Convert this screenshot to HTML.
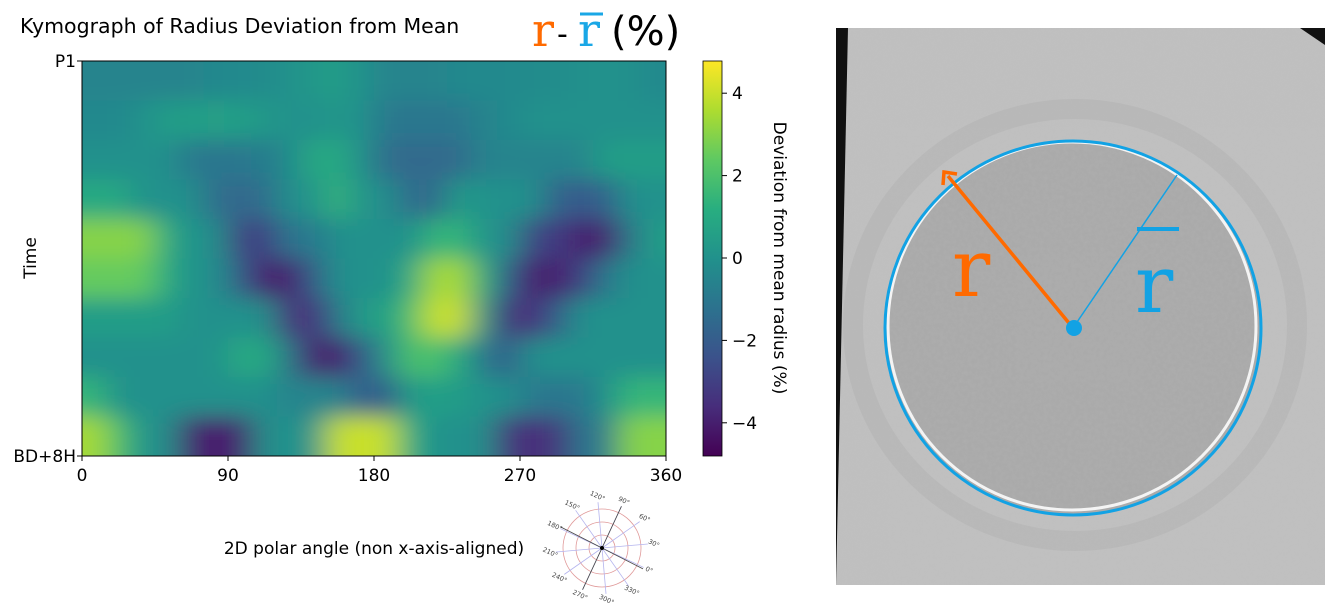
<!DOCTYPE html>
<html><head><meta charset="utf-8"><style>
body{margin:0;background:#fff;width:1325px;height:609px;overflow:hidden;font-family:"Liberation Sans","DejaVu Sans",sans-serif}
</style></head><body>
<svg id="fig" width="1325" height="609" xmlns="http://www.w3.org/2000/svg" font-family="'DejaVu Sans','Liberation Sans',sans-serif">
<defs>
<clipPath id="plotclip"><rect x="82" y="61" width="584" height="395"/></clipPath>
<filter id="blur" x="-10%" y="-10%" width="120%" height="120%"><feGaussianBlur stdDeviation="16 11"/></filter>
<linearGradient id="cbar" x1="0" y1="1" x2="0" y2="0">
<stop offset="0" stop-color="#440154"/><stop offset="0.125" stop-color="#472d7b"/><stop offset="0.25" stop-color="#3b528b"/><stop offset="0.375" stop-color="#2c728e"/><stop offset="0.5" stop-color="#21918c"/><stop offset="0.625" stop-color="#28ae80"/><stop offset="0.75" stop-color="#5ec962"/><stop offset="0.875" stop-color="#addc30"/><stop offset="1" stop-color="#fde725"/>
</linearGradient>
<filter id="noise" x="0" y="0" width="100%" height="100%"><feTurbulence type="fractalNoise" baseFrequency="0.25" numOctaves="2" seed="3"/><feColorMatrix type="matrix" values="0 0 0 0 0.5 0 0 0 0 0.5 0 0 0 0 0.5 0 0 0 0.35 0"/></filter>
<clipPath id="cellclip"><ellipse cx="1073" cy="328" rx="187" ry="186"/></clipPath>
<clipPath id="photoclip"><polygon points="848,28 1300,28 1325,45 1325,585 836,585"/></clipPath>
</defs>
<text x="20" y="33" font-size="20.5">Kymograph of Radius Deviation from Mean</text>
<g>
<text x="532" y="46" font-size="46" font-family="'DejaVu Serif','Liberation Serif',serif" fill="#ff6a00">r</text>
<text x="557" y="44" font-size="30" fill="#000">-</text>
<text x="578" y="46" font-size="46" font-family="'DejaVu Serif','Liberation Serif',serif" fill="#1aa7e6">r</text>
<line x1="580" y1="14" x2="603" y2="14" stroke="#1aa7e6" stroke-width="3"/>
<text x="611" y="45" font-size="40" fill="#000">(%)</text>
</g>
<g clip-path="url(#plotclip)"><g id="heat" filter="url(#blur)"></g></g>
<rect x="82" y="61" width="584" height="395" fill="none" stroke="#000" stroke-width="1"/>
<g id="xticks" font-size="17" text-anchor="middle"></g>
<text x="76" y="67" font-size="17" text-anchor="end">P1</text>
<text x="76" y="462" font-size="17" text-anchor="end">BD+8H</text>
<line x1="77" y1="61" x2="82" y2="61" stroke="#000"/><line x1="77" y1="456" x2="82" y2="456" stroke="#000"/>
<text transform="translate(36,258) rotate(-90)" font-size="17" text-anchor="middle">Time</text>
<text x="374" y="554" font-size="17" text-anchor="middle">2D polar angle (non x-axis-aligned)</text>
<rect x="703" y="61" width="19" height="395" fill="url(#cbar)" stroke="#000" stroke-width="0.8"/>
<g id="cticks" font-size="17"></g>
<text transform="translate(774,258) rotate(90)" font-size="17" text-anchor="middle">Deviation from mean radius (%)</text>
<g id="polar"></g>
<g>
<polygon points="836,28 1325,28 1325,585 836,585" fill="#111"/>
<g clip-path="url(#photoclip)">
<rect x="836" y="28" width="489" height="557" fill="#c0c0c0"/>
<rect x="836" y="28" width="489" height="557" filter="url(#noise)" opacity="0.4"/>
<ellipse cx="1075" cy="325" rx="222" ry="216" fill="none" stroke="#b0b0b0" stroke-width="20" opacity="0.4"/>
</g>
<ellipse cx="1073" cy="328" rx="187" ry="186" fill="#a9a9a9"/>
<g clip-path="url(#cellclip)"><rect x="880" y="140" width="390" height="380" filter="url(#noise)" opacity="0.8"/></g>
<ellipse cx="1072" cy="326" rx="184" ry="184" fill="none" stroke="#f4f4f4" stroke-width="3"/>
<ellipse cx="1073" cy="328" rx="188" ry="187" fill="none" stroke="#12a2e4" stroke-width="3"/>
<line x1="1073" y1="328" x2="948" y2="176" stroke="#ff6a00" stroke-width="3.5"/>
<polyline points="943,185 944,172 957,174" fill="none" stroke="#ff6a00" stroke-width="3.5"/>
<line x1="1073" y1="328" x2="1177" y2="175" stroke="#12a2e4" stroke-width="1.5"/>
<circle cx="1074" cy="328" r="8" fill="#12a2e4"/>
<text x="952" y="296" font-size="80" font-family="'DejaVu Serif','Liberation Serif',serif" fill="#ff6a00">r</text>
<text x="1135" y="312" font-size="80" font-family="'DejaVu Serif','Liberation Serif',serif" fill="#12a2e4">r</text>
<rect x="1137" y="227" width="42" height="4" fill="#12a2e4"/>
</g>
</svg>
<script>
const angles = ["0","90","180","270","360"];
const cbTicks = [4,2,0,-2,-4];
const nCols = 24;
const values = [
[-0.5,-0.5,-0.5,-0.5,-0.5,-0.3,-0.3,-0.2,0,0.3,0.5,0,-0.5,-0.5,-0.5,-0.3,-0.3,-0.3,-0.2,-0.2,0,0,0,-0.3],
[-0.3,-0.3,0,0.5,0.5,0.6,0.5,0.3,0,0,0.3,0,-1,-1,-1,-1,-0.5,-0.3,0,0,0,0,0,0],
[0,0,0,0,-1,-1,-1,-0.8,-0.3,1,1,0,-1.5,-1.5,-1.5,-1.5,-0.5,-0.5,-0.5,-0.5,-0.5,0.5,0.5,0.5],
[1,1,0,0,0,-1.5,-1.5,-1.5,0,0,1.5,0,0,-1.5,-1.5,0.5,0,0,0,-2,-2,-2,0,0],
[3,3,3,1,0,0,-3,-3,-1,-1,0,0,0,0,1.5,1.5,0,0,-3,-3,-4,-4,-1,0.5],
[2.5,2.5,2.5,1,0,0,-2,-4,-4,-2,0,0,0,1,3.5,3.5,1,-2,-4,-4,-3,-1,0,0],
[0.5,0.5,0.5,0.5,0,0,0,0,-3.5,-3.5,-1,0.5,0.5,2,4,4,0,-3.5,-3.5,-2,0,0,0,0],
[0,0,0,0,0,0,1,1,-1,-4,-4,-2,0,2,2,1,-1,-2,0,0,0,0,0,0],
[1.5,0,0,0,0,0,0,0,-0.5,-0.5,-0.5,-2,-2,0.5,0.5,0.5,0,0,-1,-1,-1,0,1.5,1.5],
[3.5,2,0,0,-4,-4,-4,0,0,0,4,4,4,1,0,0,0,-3.5,-3.5,-3.5,-1,-1,3,3]
];
const X0=82,X1=666,Y0=61,Y1=456,VMIN=-4.8,VMAX=4.8;
const xScale=a=>X0+(a/360)*(X1-X0);
const cScale=v=>258-v*41.2;
const stops=[[68,1,84],[71,45,123],[59,82,139],[44,114,142],[33,145,140],[40,174,128],[94,201,98],[173,220,48],[253,231,37]];
function viridis(v){let t=(v-VMIN)/(VMAX-VMIN);t=Math.max(0,Math.min(1,t))*(stops.length-1);const i=Math.min(stops.length-2,Math.floor(t)),f=t-i;const c=stops[i].map((s,k)=>Math.round(s+(stops[i+1][k]-s)*f));return `rgb(${c[0]},${c[1]},${c[2]})`;}
const NS="http://www.w3.org/2000/svg";
const heat=document.getElementById('heat');
const nRows=values.length,cw=(X1-X0)/nCols,rh=(Y1-Y0)/nRows;
values.forEach((row,r)=>row.forEach((v,c)=>{
 const el=document.createElementNS(NS,'rect');
 let x=X0+c*cw,y=Y0+r*rh,w=cw+0.5,h=rh+0.5;
 if(c===0){x-=40;w+=40;} if(c===nCols-1){w+=40;}
 if(r===0){y-=40;h+=40;} if(r===nRows-1){h+=40;}
 el.setAttribute('x',x);el.setAttribute('y',y);el.setAttribute('width',w);el.setAttribute('height',h);
 el.setAttribute('fill',viridis(v));
 
 
 heat.appendChild(el);
}));
const xt=document.getElementById('xticks');
angles.forEach(a=>{
 const x=xScale(+a);
 const l=document.createElementNS(NS,'line');
 l.setAttribute('x1',x);l.setAttribute('x2',x);l.setAttribute('y1',456);l.setAttribute('y2',461);l.setAttribute('stroke','#000');
 xt.appendChild(l);
 const t=document.createElementNS(NS,'text');
 t.setAttribute('x',x);t.setAttribute('y',481);t.textContent=a;
 
 
 xt.appendChild(t);
});
const ct=document.getElementById('cticks');
cbTicks.forEach(v=>{
 const y=cScale(v);
 const l=document.createElementNS(NS,'line');
 l.setAttribute('x1',722);l.setAttribute('x2',727);l.setAttribute('y1',y);l.setAttribute('y2',y);l.setAttribute('stroke','#000');
 ct.appendChild(l);
 const t=document.createElementNS(NS,'text');
 t.setAttribute('x',732);t.setAttribute('y',y+6);t.textContent=(v<0?'\u2212'+(-v):v);
 
 
 ct.appendChild(t);
});
const pg=document.getElementById('polar');
const cx=602,cy=548;
let s='';
[13,26,39].forEach(r=>s+=`<circle cx="${cx}" cy="${cy}" r="${r}" fill="none" stroke="#e09a9a" stroke-width="0.8"/>`);
for(let a=0;a<360;a+=30){const p=(a-25)*Math.PI/180;s+=`<line x1="${cx}" y1="${cy}" x2="${cx+46*Math.cos(p)}" y2="${cy-46*Math.sin(p)}" stroke="#b4b4ee" stroke-width="0.8"/>`;}
[-27,65].forEach(a=>{const p=a*Math.PI/180;s+=`<line x1="${cx-46*Math.cos(p)}" y1="${cy+46*Math.sin(p)}" x2="${cx+46*Math.cos(p)}" y2="${cy-46*Math.sin(p)}" stroke="#444" stroke-width="0.8"/>`;});
s+=`<circle cx="${cx}" cy="${cy}" r="2" fill="#000"/>`;
for(let a=0;a<360;a+=30){const p=(a-25)*Math.PI/180;const x=cx+52*Math.cos(p),y=cy-52*Math.sin(p);s+=`<text x="${x}" y="${y+2}" font-size="6.5" fill="#444" text-anchor="middle" transform="rotate(25 ${x} ${y})">${a}\u00b0</text>`;}
pg.innerHTML=s;
</script>
</body></html>
